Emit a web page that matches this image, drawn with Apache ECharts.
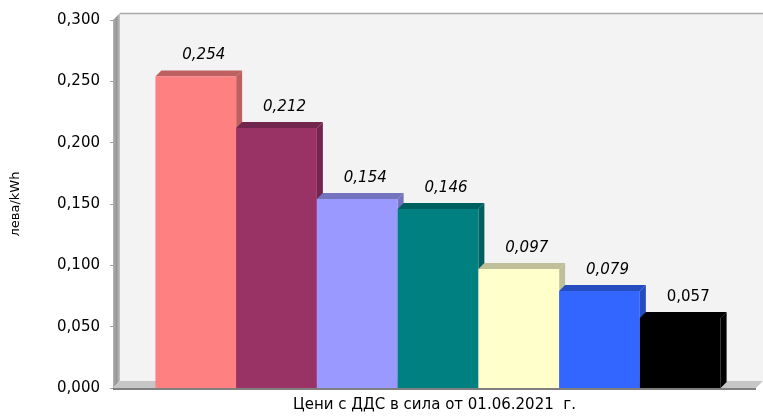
<!DOCTYPE html>
<html><head><meta charset="utf-8">
<script src="https://cdn.jsdelivr.net/npm/echarts@6/dist/echarts.min.js"></script>
<style>html,body{margin:0;padding:0;background:#fff}#c{width:763px;height:417px}</style>
</head><body><div id="c"></div>
<script>
const categories = ['Цени с ДДС в сила от 01.06.2021  г.'];
const values = [0.254, 0.212, 0.154, 0.146, 0.097, 0.079, 0.057];
const colors = ['#FF8080', '#993366', '#9999FF', '#008080', '#FFFFCC', '#3366FF', '#000000'];
const yTickLabels = ['0,000', '0,050', '0,100', '0,150', '0,200', '0,250', '0,300'];
const yName = 'лева/kWh';

const FONT = '"DejaVu Sans", Verdana, sans-serif';
const DEPTH = 7;      // wall depth
const BAR_DEPTH = 6;  // bar depth
const BAND_FILL = 0.879;

function darken(hex, f) {
  const n = parseInt(hex.slice(1), 16);
  const r = Math.round(((n >> 16) & 255) * f), g = Math.round(((n >> 8) & 255) * f), b = Math.round((n & 255) * f);
  return 'rgb(' + r + ',' + g + ',' + b + ')';
}
function fmt(v) { return v.toFixed(3).replace('.', ','); }

function renderWalls(params, api) {
  const cs = params.coordSys;
  const D = DEPTH;
  const L = cs.x, T = cs.y, W = cs.width, B = cs.y + cs.height;
  return {
    type: 'group', children: [
      { type: 'rect', shape: { x: L + D, y: T - D, width: W, height: cs.height }, style: { fill: '#f3f3f3' } },
      { type: 'line', shape: { x1: L + D, y1: T - D + 0.5, x2: L + D + W, y2: T - D + 0.5 }, style: { stroke: '#a9a9a9', lineWidth: 1.5 } },
      { type: 'polygon', shape: { points: [[L, T], [L + D, T - D], [L + D, B - D], [L, B]] },
        style: { fill: new echarts.graphic.LinearGradient(0, 0, 1, 0, [{ offset: 0, color: '#b0b0b0' }, { offset: 0.5, color: '#959595' }, { offset: 1, color: '#c4c4c4' }]) } },
      { type: 'polygon', shape: { points: [[L, B], [L + D, B - D], [L + D + W, B - D], [L + W, B]] }, style: { fill: '#c6c6c6' } },
      { type: 'line', shape: { x1: L, y1: B + 1, x2: L + W, y2: B + 1 }, style: { stroke: '#7f7f7f', lineWidth: 2 } }
    ]
  };
}

function renderBar(params, api) {
  const i = api.value(2);
  const v = api.value(1);
  const base = api.coord([0, 0]);
  const top = api.coord([0, v]);
  const band = api.size([1, 0])[0];
  const cs = params.coordSys;
  const n = values.length;
  const barW = band * BAND_FILL / n;
  const cx = cs.x + cs.width / 2 + DEPTH / 2;
  const x0 = cx - barW * n / 2 + i * barW;
  const d = BAR_DEPTH;
  const col = colors[i], dk = darken(col, 0.75);
  const y0 = top[1], yb = base[1];
  return {
    type: 'group', children: [
      { type: 'polygon', shape: { points: [[x0 + barW, y0], [x0 + barW + d, y0 - d], [x0 + barW + d, yb - d], [x0 + barW, yb]] }, style: { fill: dk } },
      { type: 'polygon', shape: { points: [[x0, y0], [x0 + d, y0 - d], [x0 + barW + d, y0 - d], [x0 + barW, y0]] }, style: { fill: dk } },
      { type: 'rect', shape: { x: x0, y: y0, width: barW, height: yb - y0 }, style: { fill: col } },
      { type: 'text', x: x0 + barW / 2 + 8, y: y0 - 21,
        style: { text: fmt(v), align: 'center', verticalAlign: 'middle', fill: '#000',
          fontFamily: FONT, fontSize: 15, fontStyle: i < n - 1 ? 'italic' : 'normal' } }
    ]
  };
}

const chart = echarts.init(document.getElementById('c'), null, { renderer: 'canvas' });
chart.setOption({
  animation: false,
  backgroundColor: '#ffffff',
  grid: { left: 113, right: 7, top: 20, bottom: 29, containLabel: false, outerBoundsMode: 'none' },
  xAxis: {
    type: 'category', data: categories,
    axisLine: { show: false }, axisTick: { show: false },
    axisLabel: { margin: 10, color: '#000', fontFamily: FONT, fontSize: 15 }
  },
  yAxis: {
    type: 'value', min: 0, max: 0.3, interval: 0.05,
    name: yName, nameLocation: 'middle', nameGap: 91, nameRotate: 90,
    nameTextStyle: { color: '#000', fontFamily: FONT, fontSize: 13 },
    axisLine: { show: true, lineStyle: { color: '#a0a0a0' } },
    axisTick: { show: true, length: 3, lineStyle: { color: '#a0a0a0' } },
    splitLine: { show: false },
    axisLabel: { margin: 13, color: '#000', fontFamily: FONT, fontSize: 15,
      formatter: function (v) { return yTickLabels[Math.round(v / 0.05)]; } }
  },
  series: [
    { type: 'custom', renderItem: renderWalls, data: [[0, 0]], encode: { x: 0, y: 1 }, clip: false, silent: true, z: 1 },
    { type: 'custom', renderItem: renderBar, data: values.map(function (v, i) { return [0, v, i]; }), encode: { x: 0, y: 1 }, clip: false, z: 2 }
  ]
});
</script></body></html>
